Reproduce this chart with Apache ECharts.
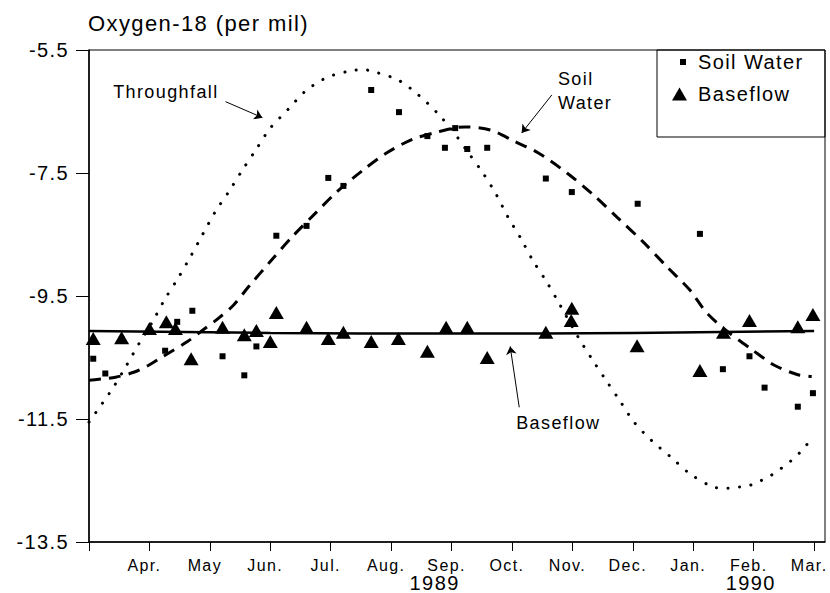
<!DOCTYPE html>
<html><head><meta charset="utf-8">
<script src="https://cdn.jsdelivr.net/npm/echarts@6/dist/echarts.min.js"></script>
<style>
html,body{margin:0;padding:0;background:#fff;}
#chart{width:830px;height:593px;}
#chart text{letter-spacing:1.4px;}
</style></head><body><div id="chart"></div>
<script>
// ---- axis labels ----
const monthLabels = ['Apr.','May','Jun.','Jul.','Aug.','Sep.','Oct.','Nov.','Dec.','Jan.','Feb.','Mar.'];
const monthTicks = [1,2,3,4,5,6,7,8,9,10,11,12];
const allTicks = [0,1,2,3,4,5,6,7,8,9,10,11,12];
const yearLabels = ['1989','1990'];
const yearPositions = [5.72, 10.95];

// ---- fitted curves (months since Mar 1 1989, per mil) ----
const throughfallMonths = [0.0,0.16,0.29,0.40,0.62,0.83,1.05,1.25,1.48,1.68,1.88,2.09,2.31,2.54,2.77,3.00,3.30,3.58,3.93,4.32,4.54,4.74,5.12,5.45,5.76,6.03,6.27,6.52,6.74,6.93,7.15,7.35,7.58,7.78,8.09,8.32,8.55,8.79,9.02,9.31,9.63,9.93,10.29,10.49,10.70,10.90,11.10,11.28,11.46,11.63,11.78,11.91,11.98];
const throughfallValues = [-11.55,-11.33,-11.15,-10.99,-10.63,-10.27,-9.92,-9.56,-9.20,-8.86,-8.50,-8.13,-7.81,-7.45,-7.11,-6.77,-6.46,-6.17,-5.95,-5.84,-5.82,-5.86,-5.99,-6.23,-6.52,-6.83,-7.16,-7.50,-7.85,-8.21,-8.57,-8.93,-9.28,-9.62,-10.16,-10.52,-10.86,-11.21,-11.55,-11.85,-12.12,-12.38,-12.59,-12.63,-12.61,-12.59,-12.51,-12.42,-12.30,-12.17,-12.03,-11.88,-11.80];

const soilCurveMonths = [0.0,0.44,0.74,0.98,1.23,1.63,1.89,2.12,2.39,2.64,3.00,3.36,3.74,4.12,4.54,4.93,5.36,5.78,6.22,6.64,7.05,7.43,7.91,8.34,8.75,9.17,9.56,9.94,10.22,10.57,10.97,11.35,11.73,11.96];
const soilCurveValues = [-10.87,-10.82,-10.74,-10.63,-10.48,-10.24,-10.05,-9.88,-9.65,-9.35,-8.94,-8.54,-8.16,-7.79,-7.45,-7.17,-6.95,-6.83,-6.75,-6.80,-6.99,-7.17,-7.50,-7.85,-8.23,-8.62,-9.02,-9.40,-9.77,-10.08,-10.37,-10.63,-10.78,-10.81];

const baseflowCurveMonths = [0, 3, 6, 9, 12];
const baseflowCurveValues = [-10.07, -10.10, -10.11, -10.10, -10.07];

// ---- observations ----
const soilWaterMonths = [0.07,0.27,0.54,1.26,1.46,1.71,2.21,2.57,2.77,3.10,3.60,3.96,4.21,4.67,5.13,5.60,5.89,6.06,6.26,6.59,7.56,7.99,9.08,10.11,10.49,10.93,11.18,11.73,11.98];
const soilWaterValues = [-10.52,-10.76,-10.21,-10.39,-9.92,-9.74,-10.48,-10.79,-10.32,-8.52,-8.36,-7.58,-7.71,-6.15,-6.51,-6.90,-7.09,-6.77,-7.11,-7.09,-7.59,-7.81,-8.00,-8.49,-10.69,-10.48,-10.99,-11.30,-11.08];

const baseflowMonths = [0.07,0.54,1.00,1.28,1.43,1.69,2.21,2.57,2.77,3.00,3.10,3.60,3.96,4.21,4.67,5.12,5.60,5.91,6.26,6.59,7.56,7.98,7.99,9.07,10.11,10.50,10.93,11.73,11.98];
const baseflowValues = [-10.19,-10.18,-10.03,-9.92,-10.03,-10.52,-10.01,-10.13,-10.06,-10.24,-9.77,-10.01,-10.19,-10.09,-10.24,-10.19,-10.40,-10.01,-10.01,-10.50,-10.09,-9.90,-9.70,-10.31,-10.71,-10.09,-9.90,-10.00,-9.80];

// ---- annotations ----
const annotationTexts = ['Throughfall', 'Soil\nWater', 'Baseflow'];
const annotationMonths = [0.40, 7.76, 7.07];
const annotationValues = [-6.19, -6.17, -11.56];
const arrowFrom = [[2.26,-6.34],[7.66,-6.23],[7.12,-11.31]];
const arrowTo = [[2.87,-6.60],[7.16,-6.85],[6.97,-10.32]];

const FONT = 'Liberation Sans, Arial, Helvetica, sans-serif';
const zip = (a, b) => a.map((v, i) => [v, b[i]]);

const chart = echarts.init(document.getElementById('chart'), null, {renderer: 'svg'});
chart.setOption({
  animation: false,
  backgroundColor: '#fff',
  textStyle: {fontFamily: FONT, color: '#000'},
  title: {
    text: 'Oxygen-18 (per mil)', left: 88, top: 12, padding: 0,
    textStyle: {fontSize: 22, fontWeight: 'normal', color: '#000', fontFamily: FONT}
  },
  grid: {left: 89, top: 50, right: 5, bottom: 50, show: true, borderColor: '#000', borderWidth: 1},
  legend: [
    {data: ['Soil Water'], left: 680, top: 52, padding: 0, itemWidth: 6, itemHeight: 6, icon: 'rect',
     selectedMode: false, itemStyle: {opacity: 1},
     textStyle: {fontSize: 20, color: '#000', fontFamily: FONT, padding: [0,0,0,7]}},
    {data: ['Baseflow'], left: 672, top: 84, padding: 0, itemWidth: 15, itemHeight: 13, icon: 'triangle',
     selectedMode: false, itemStyle: {opacity: 1},
     textStyle: {fontSize: 20, color: '#000', fontFamily: FONT, padding: [0,0,0,6]}}
  ],
  graphic: [{type: 'rect', z: 100, shape: {x: 657, y: 50, width: 168, height: 87},
             style: {fill: 'rgba(0,0,0,0)', stroke: '#000', lineWidth: 1}}],
  xAxis: [
    {type: 'value', min: 0, max: 12.18,
     axisLine: {onZero: false, lineStyle: {color: '#000', width: 1.5}},
     axisTick: {show: true, length: 9, customValues: allTicks, lineStyle: {color: '#000', width: 1}},
     axisLabel: {customValues: monthTicks, formatter: v => monthLabels[Math.round(v) - 1],
                 fontSize: 16, color: '#000', margin: 15, padding: [0, 10, 0, 0], fontFamily: FONT},
     splitLine: {show: false}},
    {type: 'value', min: 0, max: 12.18, position: 'bottom',
     axisLine: {show: false}, axisTick: {show: false},
     axisLabel: {customValues: yearPositions, formatter: v => yearLabels[yearPositions.indexOf(v)],
                 fontSize: 20, color: '#000', margin: 31, fontFamily: FONT},
     splitLine: {show: false}}
  ],
  yAxis: {type: 'value', min: -13.5, max: -5.5, interval: 2,
    axisLine: {show: true, lineStyle: {color: '#000', width: 1.5}},
    axisTick: {show: true, length: 13, lineStyle: {color: '#000', width: 1}},
    axisLabel: {fontSize: 20, color: '#000', margin: 20, formatter: v => v.toFixed(1), fontFamily: FONT},
    splitLine: {show: false}},
  series: [
    {name: 'Throughfall curve', type: 'line', data: zip(throughfallMonths, throughfallValues), smooth: 0.3,
     symbol: 'none', silent: true,
     lineStyle: {color: '#000', width: 3, type: [0.1, 11.5], cap: 'round', opacity: 1}},
    {name: 'Soil Water curve', type: 'line', data: zip(soilCurveMonths, soilCurveValues), smooth: 0.3,
     symbol: 'none', silent: true,
     lineStyle: {color: '#000', width: 3, type: [12, 8], cap: 'butt', opacity: 1}},
    {name: 'Baseflow curve', type: 'line', data: zip(baseflowCurveMonths, baseflowCurveValues), smooth: true,
     symbol: 'none', silent: true, lineStyle: {color: '#000', width: 2.5, opacity: 1}},
    {name: 'Soil Water', type: 'scatter', data: zip(soilWaterMonths, soilWaterValues),
     symbol: 'rect', symbolSize: 6, itemStyle: {color: '#000', opacity: 1}, silent: true},
    {name: 'Baseflow', type: 'scatter', data: zip(baseflowMonths, baseflowValues),
     symbol: 'triangle', symbolSize: [15, 13], itemStyle: {color: '#000', opacity: 1}, silent: true},
    {name: 'annotations', type: 'scatter', symbolSize: 0, silent: true, itemStyle: {opacity: 1},
     data: annotationTexts.map((t, i) => ({name: t, value: [annotationMonths[i], annotationValues[i]]})),
     label: {show: true, position: 'right', distance: 0, formatter: '{b}', fontSize: 18, lineHeight: 24,
             color: '#000', fontFamily: FONT, align: 'left', opacity: 1}},
    {name: 'arrows', type: 'lines', coordinateSystem: 'cartesian2d', silent: true,
     symbol: ['none', 'arrow'], symbolSize: 8,
     lineStyle: {color: '#000', width: 1, opacity: 1},
     data: arrowFrom.map((f, i) => ({coords: [f, arrowTo[i]]}))}
  ]
});
</script></body></html>
